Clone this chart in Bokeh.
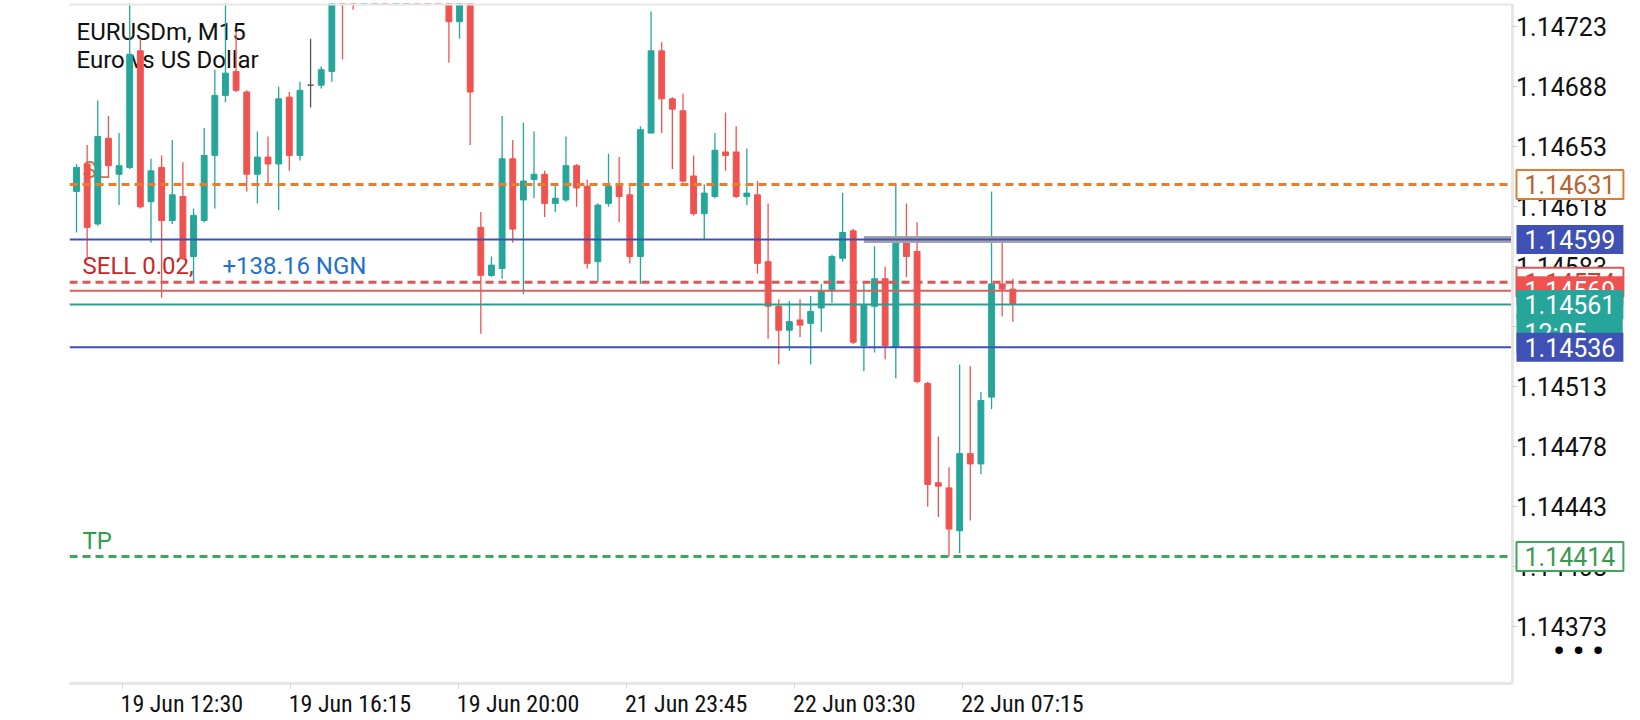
from bokeh.plotting import figure
from bokeh.models import Range1d, FixedTicker, Label, PrintfTickFormatter, ColumnDataSource
from bokeh.embed import file_html
from bokeh.resources import INLINE

# ---- data (EURUSDm, M15) ----
opens = [1.14627, 1.14643, 1.14608, 1.14658, 1.14637, 1.14641, 1.14709, 1.14621, 1.14641, 1.14610,
         1.14624, 1.14589, 1.14610, 1.14648, 1.14683, 1.14697, 1.14685, 1.14637, 1.14647, 1.14643,
         1.14682, 1.14648, 1.14689, 1.14689, 1.14697, 1.14760, 1.14752, 1.14745, 1.14762, 1.14784,
         1.14776, 1.14790, 1.14795, 1.14772, 1.14760, 1.14750, 1.14726, 1.14748, 1.14606, 1.14578,
         1.14582, 1.14646, 1.14622, 1.14634, 1.14637, 1.14620, 1.14622, 1.14642, 1.14630, 1.14586,
         1.14620, 1.14631, 1.14625, 1.14589, 1.14661, 1.14709, 1.14681, 1.14674, 1.14636, 1.14614,
         1.14624, 1.14650, 1.14650, 1.14624, 1.14625, 1.14586, 1.14560, 1.14546, 1.14552, 1.14550,
         1.14559, 1.14569, 1.14588, 1.14604, 1.14537, 1.14560, 1.14576, 1.14536, 1.14598, 1.14592,
         1.14515, 1.14457, 1.14454, 1.14429, 1.14474, 1.14468, 1.14507, 1.14573, 1.14570]
highs = [1.14643, 1.14654, 1.14680, 1.14671, 1.14661, 1.14745, 1.14716, 1.14646, 1.14648, 1.14657,
         1.14644, 1.14617, 1.14664, 1.14698, 1.14740, 1.14720, 1.14686, 1.14662, 1.14659, 1.14688,
         1.14685, 1.14691, 1.14716, 1.14700, 1.14752, 1.14768, 1.14766, 1.14770, 1.14790, 1.14801,
         1.14795, 1.14812, 1.14805, 1.14788, 1.14772, 1.14758, 1.14752, 1.14752, 1.14615, 1.14589,
         1.14671, 1.14657, 1.14667, 1.14662, 1.14639, 1.14631, 1.14659, 1.14643, 1.14634, 1.14620,
         1.14649, 1.14647, 1.14630, 1.14665, 1.14732, 1.14714, 1.14682, 1.14684, 1.14648, 1.14631,
         1.14661, 1.14673, 1.14665, 1.14652, 1.14633, 1.14620, 1.14564, 1.14563, 1.14564, 1.14566,
         1.14573, 1.14590, 1.14626, 1.14605, 1.14574, 1.14595, 1.14583, 1.14631, 1.14620, 1.14609,
         1.14516, 1.14484, 1.14466, 1.14526, 1.14525, 1.14510, 1.14627, 1.14597, 1.14576]
lows = [1.14603, 1.14588, 1.14607, 1.14635, 1.14619, 1.14640, 1.14617, 1.14597, 1.14565, 1.14608,
        1.14587, 1.14574, 1.14609, 1.14617, 1.14679, 1.14685, 1.14627, 1.14620, 1.14631, 1.14616,
        1.14639, 1.14645, 1.14676, 1.14687, 1.14691, 1.14704, 1.14733, 1.14738, 1.14755, 1.14770,
        1.14762, 1.14781, 1.14768, 1.14752, 1.14745, 1.14702, 1.14716, 1.14654, 1.14544, 1.14577,
        1.14576, 1.14597, 1.14567, 1.14623, 1.14612, 1.14615, 1.14621, 1.14618, 1.14582, 1.14574,
        1.14618, 1.14609, 1.14585, 1.14573, 1.14661, 1.14661, 1.14640, 1.14632, 1.14613, 1.14599,
        1.14623, 1.14639, 1.14623, 1.14619, 1.14579, 1.14541, 1.14526, 1.14534, 1.14542, 1.14526,
        1.14545, 1.14562, 1.14586, 1.14538, 1.14522, 1.14533, 1.14529, 1.14518, 1.14577, 1.14515,
        1.14443, 1.14437, 1.14414, 1.14416, 1.14435, 1.14462, 1.14500, 1.14554, 1.14551]
closes = [1.14641, 1.14606, 1.14659, 1.14642, 1.14642, 1.14707, 1.14618, 1.14639, 1.14610, 1.14625,
          1.14588, 1.14613, 1.14648, 1.14683, 1.14696, 1.14686, 1.14637, 1.14647, 1.14643, 1.14681,
          1.14648, 1.14686, 1.14689, 1.14698, 1.14745, 1.14742, 1.14745, 1.14762, 1.14784, 1.14776,
          1.14790, 1.14795, 1.14772, 1.14760, 1.14750, 1.14726, 1.14745, 1.14685, 1.14578, 1.14584,
          1.14646, 1.14605, 1.14633, 1.14637, 1.14620, 1.14623, 1.14642, 1.14629, 1.14585, 1.14619,
          1.14630, 1.14624, 1.14589, 1.14663, 1.14709, 1.14681, 1.14675, 1.14633, 1.14614, 1.14626,
          1.14651, 1.14648, 1.14624, 1.14626, 1.14585, 1.14560, 1.14546, 1.14551, 1.14549, 1.14557,
          1.14569, 1.14589, 1.14603, 1.14539, 1.14561, 1.14576, 1.14537, 1.14598, 1.14589, 1.14516,
          1.14456, 1.14455, 1.14430, 1.14474, 1.14468, 1.14505, 1.14573, 1.14570, 1.14561]

x_tick_marks = [4.3, 20.1, 35.9, 51.7, 67.5, 83.3]
x_tick_labels = ["19 Jun 12:30", "19 Jun 16:15", "19 Jun 20:00",
                 "21 Jun 23:45", "22 Jun 03:30", "22 Jun 07:15"]
y_ticks = [1.14723, 1.14688, 1.14653, 1.14618, 1.14583, 1.14548,
           1.14513, 1.14478, 1.14443, 1.14408, 1.14373]

symbol_text = "EURUSDm, M15"
symbol_desc = "Euro vs US Dollar"
sl_price = 1.14631
tp_price = 1.14414
entry_price = 1.14574
ask_price = 1.14569
bid_price = 1.14561
hline_upper = 1.14599
hline_lower = 1.14536
trend_start = 74
trend_price = 1.14599
order_text = "SELL 0.02,"
profit_text = "+138.16 NGN"
countdown = "12:05"

UP = "#26a69a"
DOWN = "#ef5350"
DOJI = "#555555"
FONT = "Roboto"
TIME_FONT = "Liberation Sans Narrow, Roboto Condensed, Roboto"

idx = list(range(len(opens)))
colors = [UP if c > o else (DOWN if c < o else DOJI) for o, c in zip(opens, closes)]
src = ColumnDataSource(dict(
    x=idx, open=opens, high=highs, low=lows, close=closes,
    top=[max(o, c) for o, c in zip(opens, closes)],
    bottom=[min(o, c) for o, c in zip(opens, closes)],
    color=colors))

# view: frame spans the full width; the price scale sits at a fixed position inside it
x0, x1 = -0.658, 146.99
axis_x = 134.92
y0, y1 = 1.1433988, 1.1473663

p = figure(width=1640, height=720, x_range=Range1d(x0, x1), y_range=Range1d(y0, y1),
           output_backend="svg", toolbar_location=None, y_axis_location="right",
           min_border_left=69, min_border_right=0, min_border_top=3, min_border_bottom=33)
p.outline_line_color = None
p.xgrid.visible = False
p.ygrid.visible = False
p.background_fill_color = "white"
p.border_fill_color = "white"

# x axis: tiny tick marks (minor) + labels left-aligned to them (placed at label centres)
label_shift = 5.6
label_pos = [round(t + label_shift, 2) for t in x_tick_marks]
p.xaxis.ticker = FixedTicker(ticks=label_pos, minor_ticks=x_tick_marks)
p.xaxis.major_label_overrides = {pos: lab for pos, lab in zip(label_pos, x_tick_labels)}
p.xaxis.bounds = (x0, axis_x)
p.xaxis.major_tick_line_color = None
p.xaxis.major_tick_out = 0
p.xaxis.major_tick_in = 0
p.xaxis.minor_tick_out = 5
p.xaxis.minor_tick_in = 0
p.xaxis.minor_tick_line_color = "#d6d6d6"
p.xaxis.axis_line_color = "#e6e6e6"
p.xaxis.axis_line_width = 3
p.xaxis.major_label_standoff = 1
p.xaxis.major_label_text_font = TIME_FONT
p.xaxis.major_label_text_font_size = "24px"
p.xaxis.major_label_text_color = "#111111"

p.yaxis.fixed_location = axis_x
p.yaxis.ticker = FixedTicker(ticks=y_ticks)
p.yaxis.formatter = PrintfTickFormatter(format="%.5f")
p.yaxis.major_tick_out = 5
p.yaxis.major_tick_in = 0
p.yaxis.major_tick_line_color = "#cfcfcf"
p.yaxis.minor_tick_line_color = None
p.yaxis.axis_line_color = "#e6e6e6"
p.yaxis.axis_line_width = 3
p.yaxis.major_label_standoff = -1
p.yaxis.major_label_text_font = FONT
p.yaxis.major_label_text_font_size = "25px"
p.yaxis.major_label_text_color = "#111111"

# texts under candles
def under_label(text, x, y, color, y_units="screen", y_offset=0, size="24px"):
    p.add_layout(Label(x=x, y=y, x_units="screen", y_units=y_units, y_offset=y_offset,
                       text=text, text_font=FONT, text_font_size=size, text_color=color,
                       text_baseline="alphabetic", text_align="left", level="underlay"))

under_label(symbol_text, 7, 652, "#111111")
under_label(symbol_desc, 7, 624, "#111111")
under_label("SL", 13, sl_price, "#c47a45", y_units="data", y_offset=15)
under_label("TP", 13, tp_price, "#2e9e48", y_units="data", y_offset=15)
under_label(order_text, 13, entry_price, "#c62828", y_units="data", y_offset=16)
under_label(profit_text, 153, entry_price, "#1f6fd1", y_units="data", y_offset=16)

# candles
p.segment(x0="x", y0="low", x1="x", y1="high", color="color", line_width=1.3, source=src)
p.vbar(x="x", width=0.55, top="top", bottom="bottom", fill_color="color",
       line_color="color", line_width=1, source=src)

# grey trend line under the upper blue line
p.segment(x0=[trend_start], y0=[trend_price], x1=[axis_x], y1=[trend_price],
          line_color="#a2a2aa", line_width=7)

# horizontal levels, ending at the price scale
def level(price, color, width, dash="solid"):
    p.segment(x0=[x0], y0=[price], x1=[axis_x], y1=[price],
              line_color=color, line_width=width, line_dash=dash)

level(y1, "#e6e6e6", 4)
level(sl_price, "#e67e2e", 3, "8 5")
level(hline_upper, "#3f51b5", 2)
level(entry_price, "#e05555", 3, "8 5")
level(ask_price, "#d9605e", 2)
level(bid_price, "#2f9e92", 2)
level(hline_lower, "#3f51b5", 2)
level(tp_price, "#3fa75a", 3, "8 5")

# price boxes on the right scale
BOX_X = 1447
def price_box(price, text_color, fill=None, border=None, y_offset=0, text=None, pad=(8, 5)):
    p.add_layout(Label(x=BOX_X, y=price, x_units="screen", y_units="data", y_offset=y_offset,
                       text=text if text is not None else f"{price:.5f}",
                       text_font=FONT, text_font_size="25px", text_color=text_color,
                       text_baseline="middle", text_align="left",
                       background_fill_color=fill, border_line_color=border,
                       border_line_width=2, padding=pad))

price_box(sl_price, "#b5652f", fill="white", border="#e07b2f")
price_box(hline_upper, "white", fill="#3f51b5")
price_box(entry_price, "#d33b3b", fill="white", border="#e05555")
price_box(ask_price, "white", fill="#ef5350")
price_box(bid_price, "white", fill="#26a69a", y_offset=-29, text=countdown,
          pad=dict(left=8, right=36, top=5, bottom=5))
price_box(bid_price, "white", fill="#26a69a")
price_box(hline_lower, "white", fill="#3f51b5")
price_box(tp_price, "#3a9a52", fill="white", border="#3fa75a")

p.add_layout(Label(x=1509, y=33, x_units="screen", y_units="screen", text="• • •",
                   text_font=FONT, text_font_size="32px", text_font_style="bold",
                   text_color="#000000", text_align="center", text_baseline="middle"))

open("out.html", "w").write(file_html(p, INLINE))
